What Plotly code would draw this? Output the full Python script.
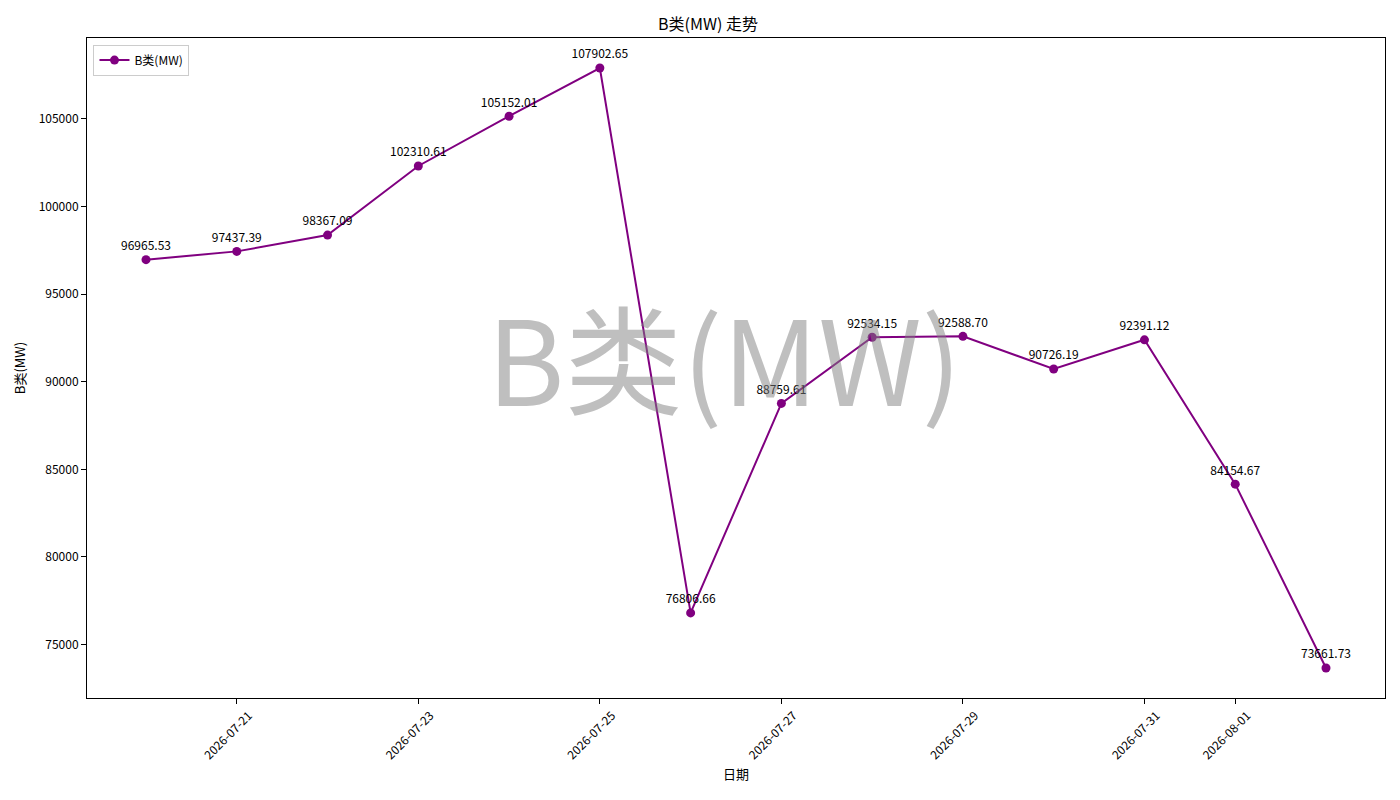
import plotly.graph_objects as go

dates = ["2026-07-20", "2026-07-21", "2026-07-22", "2026-07-23", "2026-07-24",
         "2026-07-25", "2026-07-26", "2026-07-27", "2026-07-28", "2026-07-29",
         "2026-07-30", "2026-07-31", "2026-08-01", "2026-08-02"]
values = [96965.53, 97437.39, 98367.09, 102310.61, 105152.01,
          107902.65, 76806.66, 88759.61, 92534.15, 92588.70,
          90726.19, 92391.12, 84154.67, 73661.73]
x_ticks = ["2026-07-21", "2026-07-23", "2026-07-25", "2026-07-27",
           "2026-07-29", "2026-07-31", "2026-08-01"]
y_ticks = [75000, 80000, 85000, 90000, 95000, 100000, 105000]

name = "B类(MW)"
font_family = "Noto Sans CJK SC"

fig = go.Figure()
fig.add_trace(go.Scatter(
    x=dates,
    y=values,
    mode='lines+markers+text',
    name=name,
    line=dict(color='purple', width=2),
    marker=dict(color='purple', size=9),
    text=[f"{v:.2f}" for v in values],
    textposition='top center',
    textfont=dict(size=12, color='black', family=font_family),
))

# watermark in the middle of the axes
fig.add_annotation(
    text=name, xref='paper', yref='paper', x=0.5, y=0.5, xshift=-12, yshift=14,
    showarrow=False,
    font=dict(size=118, color='rgba(128,128,128,0.5)', family=font_family),
)

axis_style = dict(
    showline=True, linecolor='black', linewidth=1, mirror=True,
    ticks='outside', ticklen=5, tickcolor='black',
    showgrid=False, zeroline=False, automargin=False,
    tickfont=dict(size=12, color='black', family=font_family),
)

# page body adds an 8px offset, margins compensate for it
fig.update_layout(
    width=1400, height=800,
    title=dict(text=name + " 走势", x=0.5, xanchor='center', y=0.98, yanchor='middle',
               font=dict(size=16, color='black', family=font_family)),
    paper_bgcolor='white', plot_bgcolor='white',
    margin=dict(l=79, r=23, t=30, b=110),
    xaxis=dict(
        title=dict(text="日期", font=dict(size=13, color='black', family=font_family), standoff=8),
        range=["2026-07-19 08:24", "2026-08-02 15:36"],
        tickvals=x_ticks, ticktext=x_ticks, tickangle=-45, ticklabelshift=12,
        **axis_style,
    ),
    yaxis=dict(
        title=dict(text=name, font=dict(size=13, color='black', family=font_family), standoff=10),
        range=[71949.7, 109614.7],
        tickvals=y_ticks, tickformat='d',
        **axis_style,
    ),
    showlegend=True,
    legend=dict(
        x=0.005, y=0.99, xanchor='left', yanchor='top',
        bgcolor='rgba(255,255,255,0.8)', bordercolor='#cccccc', borderwidth=1,
        font=dict(size=12, color='black', family=font_family),
    ),
)

fig.write_html("out.html")
